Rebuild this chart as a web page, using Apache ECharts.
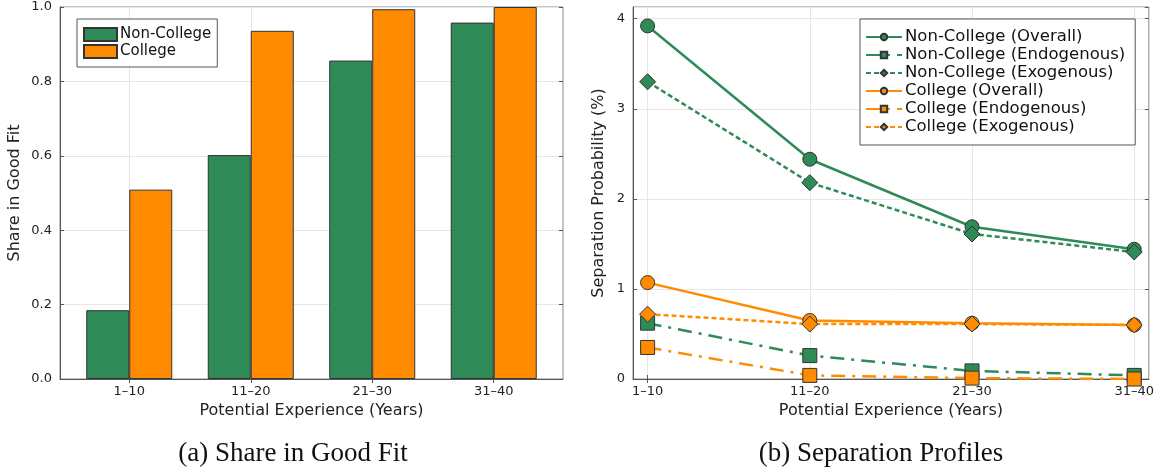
<!DOCTYPE html>
<html>
<head>
<meta charset="utf-8">
<script src="https://cdn.jsdelivr.net/npm/echarts@6/dist/echarts.min.js"></script>
<style>html,body{margin:0;padding:0;background:#fff;}#c{width:1157px;height:470px;}</style>
</head>
<body>
<div id="c"></div>
<script>
// ---- data ----
const categories = ['1–10', '11–20', '21–30', '31–40'];
const shareNonCollege = [0.185, 0.602, 0.856, 0.958];
const shareCollege = [0.509, 0.936, 0.994, 1.0];
const ncOverall = [3.92, 2.44, 1.69, 1.44];
const ncEndo = [0.62, 0.26, 0.09, 0.04];
const ncExo = [3.30, 2.18, 1.61, 1.41];
const cOverall = [1.07, 0.65, 0.62, 0.60];
const cEndo = [0.35, 0.04, 0.01, 0.00];
const cExo = [0.72, 0.61, 0.61, 0.60];
const catPositions = [1, 2, 3, 4];
const captionA = '(a) Share in Good Fit';
const captionB = '(b) Separation Profiles';

// ---- styling ----
const GREEN = '#2e8b57';
const ORANGE = '#ff8c00';
const FONT = 'DejaVu Sans';
const pts = v => v.map((y, i) => [catPositions[i], y]);
const catFmt = v => categories[Math.round(v) - 1] || '';

const chart = echarts.init(document.getElementById('c'), null, {renderer: 'canvas'});

const baseX = (gi, min, max) => ({
  type: 'value', gridIndex: gi, min: min, max: max,
  axisLine: {show: true, lineStyle: {color: '#555', width: 1}},
  axisTick: {show: true, inside: true, length: 4, customValues: catPositions, lineStyle: {color: '#555'}},
  axisLabel: {customValues: catPositions, formatter: catFmt, color: '#222', fontSize: 13, fontFamily: FONT, margin: 6},
  splitLine: {show: true, lineStyle: {color: '#e6e6e6', width: 1}},
  name: 'Potential Experience (Years)', nameLocation: 'middle', nameGap: 21,
  nameTextStyle: {fontSize: 16, color: '#222', fontFamily: FONT}
});
const topX = (gi, min, max) => ({
  type: 'value', gridIndex: gi, min: min, max: max, position: 'top',
  axisLine: {show: false},
  axisTick: {show: true, inside: true, length: 4, customValues: catPositions, lineStyle: {color: '#555'}},
  axisLabel: {show: false}, splitLine: {show: false}
});

const option = {
  animation: false,
  backgroundColor: '#fff',
  textStyle: {fontFamily: FONT},
  title: [
    {text: captionA, left: 288, top: 435, textAlign: 'center',
     textStyle: {fontFamily: 'Liberation Serif', fontSize: 27, fontWeight: 'normal', color: '#111'}},
    {text: captionB, left: 876, top: 435, textAlign: 'center',
     textStyle: {fontFamily: 'Liberation Serif', fontSize: 27, fontWeight: 'normal', color: '#111'}}
  ],
  grid: [
    {left: 60, top: 7, width: 503, height: 372, show: true, borderColor: '#8a8a8a', borderWidth: 1, backgroundColor: 'transparent'},
    {left: 633, top: 7, width: 516, height: 372, show: true, borderColor: '#8a8a8a', borderWidth: 1, backgroundColor: 'transparent'}
  ],
  legend: [
    {
      data: ['Non-College', 'College'],
      left: 77, top: 19, orient: 'vertical', icon: 'rect',
      itemWidth: 33, itemHeight: 13, itemGap: 2,
      padding: [8, 6, 8, 6],
      borderColor: '#555', borderWidth: 1, backgroundColor: '#fff',
      textStyle: {fontSize: 15, color: '#111', fontFamily: FONT, padding: [0, 0, 0, -2]}
    },
    {
      data: ['Non-College (Overall)', 'Non-College (Endogenous)', 'Non-College (Exogenous)',
             'College (Overall)', 'College (Endogenous)', 'College (Exogenous)'],
      left: 860, top: 19, orient: 'vertical',
      itemWidth: 36, itemHeight: 8, itemGap: 0,
      padding: [9, 10, 9, 5],
      borderColor: '#555', borderWidth: 1, backgroundColor: '#fff',
      textStyle: {fontSize: 16.5, color: '#111', fontFamily: FONT, lineHeight: 18, padding: [0, 0, 0, -2]}
    }
  ],
  xAxis: [
    baseX(0, 0.43, 4.57),
    baseX(1, 0.91, 4.09),
    topX(0, 0.43, 4.57),
    topX(1, 0.91, 4.09)
  ],
  yAxis: [
    {type: 'value', gridIndex: 0, min: 0, max: 1, interval: 0.2,
     axisLine: {show: true, lineStyle: {color: '#555'}},
     axisTick: {show: true, inside: true, length: 4, lineStyle: {color: '#555'}},
     axisLabel: {formatter: v => v.toFixed(1), color: '#222', fontSize: 13, fontFamily: FONT, margin: 8},
     splitLine: {show: true, lineStyle: {color: '#e6e6e6'}},
     name: 'Share in Good Fit', nameLocation: 'middle', nameGap: 37,
     nameTextStyle: {fontSize: 16, color: '#222', fontFamily: FONT}},
    {type: 'value', gridIndex: 1, min: 0, max: 4.13, interval: 1,
     axisLine: {show: true, lineStyle: {color: '#555'}},
     axisTick: {show: true, inside: true, length: 4, lineStyle: {color: '#555'}},
     axisLabel: {showMaxLabel: false, color: '#222', fontSize: 13, fontFamily: FONT, margin: 8},
     splitLine: {show: true, lineStyle: {color: '#e6e6e6'}},
     name: 'Separation Probability (%)', nameLocation: 'middle', nameGap: 26,
     nameTextStyle: {fontSize: 16, color: '#222', fontFamily: FONT}},
    {type: 'value', gridIndex: 0, min: 0, max: 1, interval: 0.2, position: 'right',
     axisLine: {show: false}, axisTick: {show: true, inside: true, length: 4, lineStyle: {color: '#555'}},
     axisLabel: {show: false}, splitLine: {show: false}},
    {type: 'value', gridIndex: 1, min: 0, max: 4.13, interval: 1, position: 'right',
     axisLine: {show: false}, axisTick: {show: true, inside: true, length: 4, lineStyle: {color: '#555'}},
     axisLabel: {show: false}, splitLine: {show: false}}
  ],
  series: [
    {name: 'Non-College', type: 'bar', xAxisIndex: 0, yAxisIndex: 0, data: pts(shareNonCollege),
     barWidth: 43, barGap: '0%', itemStyle: {color: GREEN, borderColor: '#333', borderWidth: 1}},
    {name: 'College', type: 'bar', xAxisIndex: 0, yAxisIndex: 0, data: pts(shareCollege),
     barWidth: 43, barGap: '0%', itemStyle: {color: ORANGE, borderColor: '#333', borderWidth: 1}},

    {name: 'Non-College (Overall)', type: 'line', xAxisIndex: 1, yAxisIndex: 1, data: pts(ncOverall),
     symbol: 'circle', symbolSize: 14, lineStyle: {color: GREEN, width: 2.5, type: 'solid'},
     itemStyle: {color: GREEN, borderColor: '#333', borderWidth: 1}},
    {name: 'Non-College (Endogenous)', type: 'line', xAxisIndex: 1, yAxisIndex: 1, data: pts(ncEndo),
     symbol: 'rect', symbolSize: 14, lineStyle: {color: GREEN, width: 2.5, type: [14, 7, 3, 7]},
     itemStyle: {color: GREEN, borderColor: '#333', borderWidth: 1}},
    {name: 'Non-College (Exogenous)', type: 'line', xAxisIndex: 1, yAxisIndex: 1, data: pts(ncExo),
     symbol: 'diamond', symbolSize: 16, lineStyle: {color: GREEN, width: 2.5, type: [5, 3]},
     itemStyle: {color: GREEN, borderColor: '#333', borderWidth: 1}},
    {name: 'College (Overall)', type: 'line', xAxisIndex: 1, yAxisIndex: 1, data: pts(cOverall),
     symbol: 'circle', symbolSize: 14, lineStyle: {color: ORANGE, width: 2.5, type: 'solid'},
     itemStyle: {color: ORANGE, borderColor: '#333', borderWidth: 1}},
    {name: 'College (Endogenous)', type: 'line', xAxisIndex: 1, yAxisIndex: 1, data: pts(cEndo),
     symbol: 'rect', symbolSize: 14, lineStyle: {color: ORANGE, width: 2.5, type: [14, 7, 3, 7]},
     itemStyle: {color: ORANGE, borderColor: '#333', borderWidth: 1}},
    {name: 'College (Exogenous)', type: 'line', xAxisIndex: 1, yAxisIndex: 1, data: pts(cExo),
     symbol: 'diamond', symbolSize: 16, lineStyle: {color: ORANGE, width: 2.5, type: [5, 3]},
     itemStyle: {color: ORANGE, borderColor: '#333', borderWidth: 1}}
  ]
};
chart.setOption(option);
</script>
</body>
</html>
